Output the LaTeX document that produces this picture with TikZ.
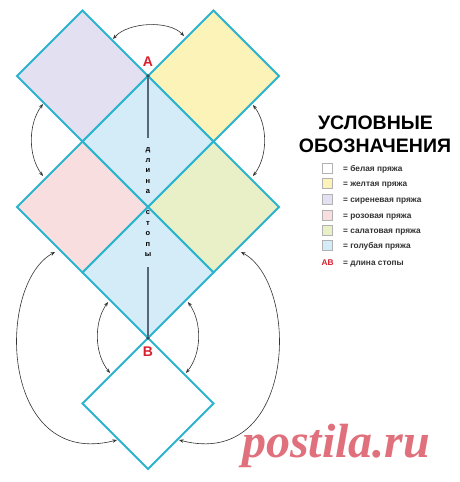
\documentclass[tikz,border=0pt]{standalone}
\usepackage{fontspec}
\setmainfont{Liberation Sans}
\newfontfamily\wmfont{Liberation Serif}
\usetikzlibrary{arrows.meta,shapes.geometric}
\definecolor{tileline}{HTML}{2AB4CD}
\definecolor{clilac}{HTML}{E3E1F1}
\definecolor{cyellow}{HTML}{FCF3B8}
\definecolor{cpink}{HTML}{F8DEDF}
\definecolor{cgreen}{HTML}{E9EFC6}
\definecolor{cblue}{HTML}{D4EBF8}
\definecolor{arrowgray}{HTML}{333333}
\definecolor{axisgray}{HTML}{56677A}
\definecolor{labred}{HTML}{D8202E}
\definecolor{wmpink}{HTML}{E0707C}
\definecolor{legtext}{HTML}{333333}
\begin{document}
\begin{tikzpicture}[x=1pt,y=-1pt,
  tile/.style={diamond, draw=tileline, line width=1.9pt, minimum width=131pt,
    minimum height=131pt, inner sep=0pt, outer sep=0pt},
  arr/.style={{Stealth[length=4.5pt,width=3.5pt]}-{Stealth[length=4.5pt,width=3.5pt]},
    line width=0.6pt, draw=arrowgray},
  axisline/.style={draw=axisgray, line width=1.1pt},
  dotmark/.style={circle, fill=axisgray!70!black, minimum size=3.6pt, inner sep=0pt},
  ablabel/.style={text=labred, font=\bfseries\fontsize{14}{14}\selectfont, inner sep=0pt},
  legbox/.style={draw=black!30, line width=0.4pt, minimum size=10pt, inner sep=0pt},
  legtxt/.style={anchor=base west, inner sep=0pt, text=legtext,
    font=\bfseries\fontsize{8.3}{10}\selectfont},
  title/.style={anchor=base, inner sep=0pt, font=\bfseries\fontsize{19.5}{20}\selectfont}]
\useasboundingbox (0,0) rectangle (460,482);
\fill[white] (0,0) rectangle (460,482);

% tiles
\node[tile, fill=clilac]  (lilac)  at (82.5,76) {};
\node[tile, fill=cyellow] (yellow) at (213.5,76) {};
\node[tile, fill=cblue]   (blueA)  at (148,141.5) {};
\node[tile, fill=cpink]   (pink)   at (82.5,207) {};
\node[tile, fill=cgreen]  (green)  at (213.5,207) {};
\node[tile, fill=cblue]   (blueB)  at (148,272.5) {};
\node[tile, fill=white]   (whitet) at (148,403.5) {};

% foot length axis
\node[dotmark] (Adot) at (148,76) {};
\node[dotmark] (Bdot) at (148,338) {};
\node[align=center, inner xsep=0pt, inner ysep=10pt,
  font=\bfseries\fontsize{7.5}{10.5}\selectfont] (foot) at (148,202.5)
  {д\\л\\и\\н\\а\\\mbox{}\\с\\т\\о\\п\\ы};
\draw[axisline] (Adot) -- (foot.north);
\draw[axisline] (foot.south) -- (Bdot);
\node[ablabel] (Alab) at (148,62) {A};
\node[ablabel] (Blab) at (148,351.5) {B};

% arrow end points
\coordinate (t1) at (113,39);   \coordinate (t2) at (184,36);
\coordinate (l1) at (43,104);   \coordinate (l2) at (43,176);
\coordinate (r1) at (253,105);  \coordinate (r2) at (253,176);
\coordinate (il1) at (108,302); \coordinate (il2) at (110,373);
\coordinate (ir1) at (188,302); \coordinate (ir2) at (186,373);
\coordinate (bl1) at (55,252);  \coordinate (bl2) at (117,440);
\coordinate (br1) at (241,252); \coordinate (br2) at (179,440);

\draw[arr] (t1) .. controls (128,22) and (169,20) .. (t2);
\draw[arr] (l1) .. controls (28,124) and (28,156) .. (l2);
\draw[arr] (r1) .. controls (268,125) and (268,156) .. (r2);
\draw[arr] (il1) .. controls (94,322) and (94,353) .. (il2);
\draw[arr] (ir1) .. controls (202,322) and (202,353) .. (ir2);
\draw[arr] (bl1) .. controls (-5,285) and (0,470) .. (bl2);
\draw[arr] (br1) .. controls (301,285) and (296,470) .. (br2);

% legend
\node[title] (ttl1) at (375.5,129) {УСЛОВНЫЕ};
\node[title] (ttl2) at (375,152) {ОБОЗНАЧЕНИЯ};

\node[legbox, fill=white]   (lb1) at (327.5,168) {};
\node[legbox, fill=cyellow] (lb2) at (327.5,183) {};
\node[legbox, fill=clilac]  (lb3) at (327.5,199) {};
\node[legbox, fill=cpink]   (lb4) at (327.5,215) {};
\node[legbox, fill=cgreen]  (lb5) at (327.5,230) {};
\node[legbox, fill=cblue]   (lb6) at (327.5,245.5) {};
\node[legtxt] (lt1) at (343,171) {= белая пряжа};
\node[legtxt] (lt2) at (343,186) {= желтая пряжа};
\node[legtxt] (lt3) at (343,202) {= сиреневая пряжа};
\node[legtxt] (lt4) at (343,218) {= розовая пряжа};
\node[legtxt] (lt5) at (343,233) {= салатовая пряжа};
\node[legtxt] (lt6) at (343,248.5) {= голубая пряжа};
\node[legtxt, text=labred] (lab7) at (321.5,265.5) {AB};
\node[legtxt] (lt7) at (343,265.5) {= длина стопы};

% watermark
\node[anchor=base west, inner sep=0pt, text=wmpink,
  font=\wmfont\bfseries\itshape\fontsize{48}{48}\selectfont] (wm) at (242,457) {postila.ru};
\end{tikzpicture}
\end{document}
